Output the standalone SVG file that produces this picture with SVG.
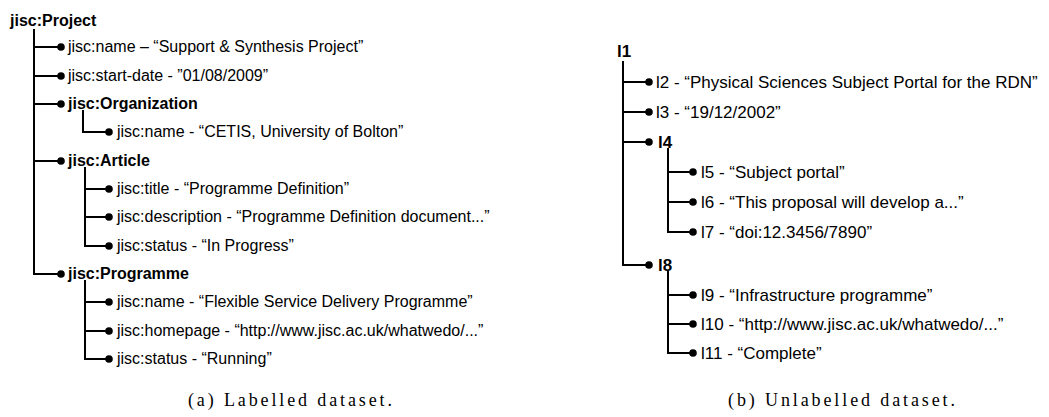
<svg xmlns="http://www.w3.org/2000/svg" width="1049" height="417" viewBox="0 0 1049 417">
<style>
.bg{fill:#fff}
.c{fill:none;stroke:#000;stroke-width:2}
.t{font-family:"Liberation Sans",Arial,sans-serif;font-size:16px;fill:#000}
.tr{font-family:"Liberation Sans",Arial,sans-serif;font-size:17px;fill:#000}
.b{font-weight:bold}
.cap{font-family:"Liberation Serif","DejaVu Serif",serif;font-size:18px;fill:#000}
</style>
<defs>
<marker id="dot" viewBox="-5 -5 10 10" markerWidth="10" markerHeight="10" markerUnits="userSpaceOnUse" refX="0" refY="0" orient="auto">
<circle r="3.8" fill="#000"/>
</marker>
</defs>
<rect class="bg" x="0" y="0" width="1049" height="417"/>
<g id="connectors">
<path class="c" marker-end="url(#dot)" d="M34 47 H61"/>
<path class="c" marker-end="url(#dot)" d="M34 76 H61"/>
<path class="c" marker-end="url(#dot)" d="M34 104 H61"/>
<path class="c" marker-end="url(#dot)" d="M34 161 H61"/>
<path class="c" marker-end="url(#dot)" d="M34 29 V274 H61"/>
<path class="c" marker-end="url(#dot)" d="M83 110 V132 H109"/>
<path class="c" marker-end="url(#dot)" d="M85 189 H109"/>
<path class="c" marker-end="url(#dot)" d="M85 217 H109"/>
<path class="c" marker-end="url(#dot)" d="M85 167 V246 H109"/>
<path class="c" marker-end="url(#dot)" d="M85 302 H109"/>
<path class="c" marker-end="url(#dot)" d="M85 331 H109"/>
<path class="c" marker-end="url(#dot)" d="M85 280 V359 H109"/>
<path class="c" marker-end="url(#dot)" d="M623 82 H649"/>
<path class="c" marker-end="url(#dot)" d="M623 112 H649"/>
<path class="c" marker-end="url(#dot)" d="M623 142 H649"/>
<path class="c" marker-end="url(#dot)" d="M623 61 V265 H649"/>
<path class="c" marker-end="url(#dot)" d="M668 172 H693"/>
<path class="c" marker-end="url(#dot)" d="M668 202 H693"/>
<path class="c" marker-end="url(#dot)" d="M668 148 V232 H693"/>
<path class="c" marker-end="url(#dot)" d="M668 295 H693"/>
<path class="c" marker-end="url(#dot)" d="M668 324 H693"/>
<path class="c" marker-end="url(#dot)" d="M668 271 V353 H693"/>
</g>
<g id="project"><text class="t b" x="10" y="26">jisc:Project</text></g>
<g id="project-name"><text class="t" x="68" y="52">jisc:name – “Support &amp; Synthesis Project”</text></g>
<g id="project-start"><text class="t" x="68" y="81">jisc:start-date - ”01/08/2009”</text></g>
<g id="organization"><text class="t b" x="68" y="109">jisc:Organization</text></g>
<g id="org-name"><text class="t" x="117" y="137">jisc:name - “CETIS, University of Bolton”</text></g>
<g id="article"><text class="t b" x="68" y="166">jisc:Article</text></g>
<g id="article-title"><text class="t" x="117" y="194">jisc:title - “Programme Definition”</text></g>
<g id="article-desc"><text class="t" x="117" y="222">jisc:description - “Programme Definition document...”</text></g>
<g id="article-status"><text class="t" x="117" y="251">jisc:status - “In Progress”</text></g>
<g id="programme"><text class="t b" x="68" y="279">jisc:Programme</text></g>
<g id="prog-name"><text class="t" x="117" y="307">jisc:name - “Flexible Service Delivery Programme”</text></g>
<g id="prog-home"><text class="t" x="117" y="336">jisc:homepage - “http://www.jisc.ac.uk/whatwedo/...”</text></g>
<g id="prog-status"><text class="t" x="117" y="364">jisc:status - “Running”</text></g>
<g id="l1"><text class="tr b" x="617" y="57">l1</text></g>
<g id="l2"><text class="tr" x="656" y="88">l2 - “Physical Sciences Subject Portal for the RDN”</text></g>
<g id="l3"><text class="tr" x="656" y="118">l3 - “19/12/2002”</text></g>
<g id="l4"><text class="tr b" x="658" y="148">l4</text></g>
<g id="l5"><text class="tr" x="701" y="178">l5 - “Subject portal”</text></g>
<g id="l6"><text class="tr" x="701" y="208">l6 - “This proposal will develop a...”</text></g>
<g id="l7"><text class="tr" x="701" y="238">l7 - “doi:12.3456/7890”</text></g>
<g id="l8"><text class="tr b" x="658" y="271">l8</text></g>
<g id="l9"><text class="tr" x="701" y="301">l9 - “Infrastructure programme”</text></g>
<g id="l10"><text class="tr" x="701" y="330">l10 - “http://www.jisc.ac.uk/whatwedo/...”</text></g>
<g id="l11"><text class="tr" x="701" y="359">l11 - “Complete”</text></g>
<g id="caption-a"><text class="cap" x="188" y="406" textLength="204" lengthAdjust="spacing">(a) Labelled dataset.</text></g>
<g id="caption-b"><text class="cap" x="728" y="406" textLength="227" lengthAdjust="spacing">(b) Unlabelled dataset.</text></g>
</svg>
